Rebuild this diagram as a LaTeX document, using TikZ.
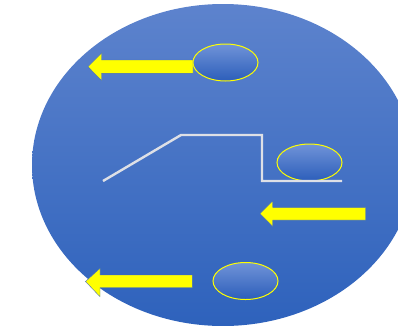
\documentclass[tikz,border=0pt]{standalone}
\usetikzlibrary{shapes.geometric}
\definecolor{discTop}{RGB}{93,131,205}
\definecolor{discBot}{RGB}{46,98,188}
\definecolor{lensTop}{RGB}{112,147,216}
\definecolor{lensBot}{RGB}{44,94,186}
\definecolor{beam}{RGB}{255,255,0}
\definecolor{beamEdge}{RGB}{70,110,185}
\definecolor{trace}{RGB}{222,224,230}
\tikzset{
  lens/.style={ellipse, draw=beam, line width=1pt, inner sep=0pt,
    minimum width=65pt, minimum height=37pt,
    top color=lensTop, bottom color=lensBot},
  beamarrow/.style={fill=beam, draw=beamEdge, line width=0.4pt, line join=miter},
  tracepath/.style={draw=trace, line width=2.4pt, line join=miter}
}
\begin{document}
\begin{tikzpicture}[x=1pt,y=-1pt]
\useasboundingbox (0,0) rectangle (398,325);
% large disc, cut off at the frame
\begin{scope}
  \clip (0,0) rectangle (398,325);
  \shade[top color=discTop, bottom color=discBot]
    (223,165) ellipse [x radius=191, y radius=161];
\end{scope}
% small lenses
\node[lens] (lensA) at (225.5,62.5) {};
\node[lens] (lensB) at (309.5,162.5) {};
\node[lens] (lensC) at (245.5,281) {};
% outline trace
\coordinate (t0) at (103,181);
\coordinate (t1) at (181,135);
\coordinate (t2) at (262,135);
\coordinate (t3) at (262,181);
\coordinate (t4) at (342,181);
\draw[tracepath] (t0) -- (t1) -- (t2) -- (t3) -- (t4);
% left-pointing block arrows
\path[beamarrow] (193,60) -- (101.5,60) -- (101.5,53) -- (88,66.7)
  -- (101.5,80.5) -- (101.5,73.3) -- (193,73.3) -- cycle;
\path[beamarrow] (365.5,207.3) -- (272.7,207.3) -- (272.7,201) -- (260,213.6)
  -- (272.7,226.5) -- (272.7,220) -- (365.5,220) -- cycle;
\path[beamarrow] (192.3,275) -- (100,275) -- (100,268.3) -- (85.5,281.5)
  -- (100,296.7) -- (100,287.5) -- (192.3,287.5) -- cycle;
\end{tikzpicture}
\end{document}
